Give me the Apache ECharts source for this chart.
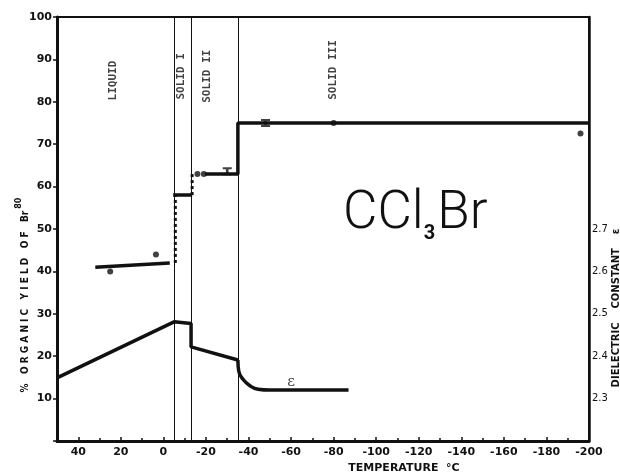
<!DOCTYPE html>
<html>
<head>
<meta charset="utf-8">
<script src="https://cdn.jsdelivr.net/npm/echarts@6/dist/echarts.min.js"></script>
<style>
  html, body { margin: 0; padding: 0; background: #fff; }
  #main { width: 620px; height: 476px; }
</style>
</head>
<body>
<div id="main"></div>
<script>
// yield of Br80 (% organic), left axis
const yieldLiquid = [[32, 41], [-3, 42]];
const yieldSolidI = [[-4.6, 58], [-13.5, 58]];
const yieldSolidII = [[-19.5, 63], [-35, 63], [-35, 75], [-200, 75]];
const yieldJumpA = [[-5.6, 42], [-5.6, 58]];
const yieldJumpB = [[-13.5, 58], [-13.5, 63]];
const yieldPoints = [[25, 40], [3.5, 44], [-16, 63], [-19, 63], [-80, 75], [-196, 72.5]];
const yieldBars = [[-30, 63.6], [-48, 75]];

// dielectric constant, right axis
const dielectric = [[50, 2.349], [-5, 2.481], [-13, 2.477], [-13, 2.422], [-35, 2.391]];
const dielectricTail = [[-35, 2.391], [-35.4, 2.365], [-37.5, 2.345], [-40.5, 2.331], [-44.5, 2.322], [-50, 2.32], [-87, 2.32]];

// phase boundaries and labels
const phaseBounds = [-5, -13, -35];
const phaseLabels = [[23.5, 85, 'LIQUID'], [-8.5, 86, 'SOLID I'], [-20.7, 86, 'SOLID II'], [-80, 87.5, 'SOLID III']];
const rightLabels = ['2.3', '2.4', '2.5', '2.6', '2.7'];

const black = '#111';
const lbl = { color: black, fontFamily: 'DejaVu Sans', fontWeight: 'bold', fontSize: 11 };

function seg(data, yIndex, type, smooth) {
    return {
        type: 'line', data: data, yAxisIndex: yIndex, symbol: 'none', smooth: smooth || false,
        lineStyle: { color: black, width: type === 'dotted' ? 3 : 3.5, type: type || 'solid' },
        silent: true, z: 3
    };
}

let myChart = echarts.init(document.getElementById('main'));

let option = {
    animation: false,
    backgroundColor: '#fff',
    grid: {
        left: 57, right: 31, top: 17, bottom: 35, containLabel: false, outerBoundsMode: 'none',
        show: true, borderColor: black, borderWidth: 2
    },
    xAxis: {
        type: 'value', inverse: true, min: -200, max: 50, interval: 20,
        name: 'TEMPERATURE  °C', nameLocation: 'middle', nameGap: 22,
        nameTextStyle: { color: black, fontFamily: 'DejaVu Sans', fontWeight: 'bold', fontSize: 11, padding: [0, 0, 0, 162] },
        axisLine: { onZero: false, lineStyle: { color: black, width: 3 } },
        axisTick: { inside: true, length: 4, lineStyle: { color: black, width: 1.5 } },
        minorTick: { show: true, splitNumber: 2, length: 3, lineStyle: { color: black, width: 1.5 } },
        axisLabel: Object.assign({ margin: 6, showMaxLabel: false }, lbl),
        splitLine: { show: false }
    },
    yAxis: [
        {
            type: 'value', min: 0, max: 100, interval: 10,
            name: '%   O R G A N I C   Y I E L D   O F   Br{sup|80}', nameLocation: 'middle', nameGap: 22, nameRotate: 90,
            nameMoveOverlap: false,
            nameTextStyle: {
                color: black, fontFamily: 'DejaVu Sans Condensed', fontWeight: 'bold', fontSize: 10, padding: [0, 132, 0, 0],
                rich: { sup: { color: black, fontFamily: 'DejaVu Sans', fontWeight: 'bold', fontSize: 8, padding: [0, 0, 12, 2] } }
            },
            axisLine: { show: true, onZero: false, lineStyle: { color: black, width: 3 } },
            axisTick: { show: true, length: 4, lineStyle: { color: black, width: 1.5 } },
            axisLabel: Object.assign({ margin: 5, formatter: v => (v === 0 ? '' : v) }, lbl),
            splitLine: { show: false }
        },
        {
            type: 'value', min: 2.2, max: 3.2, interval: 0.1, position: 'right',
            name: 'DIELECTRIC    CONSTANT    ε', nameLocation: 'middle', nameGap: 22, nameRotate: 90,
            nameMoveOverlap: false,
            nameTextStyle: { color: black, fontFamily: 'DejaVu Sans', fontWeight: 'bold', fontSize: 10, padding: [0, 158, 0, 0] },
            axisLine: { show: true, onZero: false, lineStyle: { color: black, width: 2.5 } },
            axisTick: { show: false },
            axisLabel: Object.assign({}, lbl, {
                fontSize: 10, fontWeight: 'normal', margin: 3,
                formatter: v => {
                    const s = v.toFixed(1);
                    return rightLabels.indexOf(s) >= 0 ? s : '';
                }
            }),
            splitLine: { show: false }
        }
    ],
    graphic: [
        {
            type: 'text', left: 343, top: 188,
            style: {
                text: 'CCl{s|3}Br', fill: black, font: '300 53px Roboto',
                rich: { s: { fontFamily: 'Roboto', fontSize: 20, fontWeight: 'bold', fill: black, padding: [38, 2, 0, 0] } }
            }
        }
    ],
    series: [
        Object.assign(seg(yieldLiquid, 0), {
            markLine: {
                silent: true, symbol: 'none', label: { show: false },
                lineStyle: { color: black, width: 1, type: 'solid' },
                data: phaseBounds.map(t => ({ xAxis: t }))
            }
        }),
        seg(yieldSolidI, 0),
        seg(yieldSolidII, 0),
        seg(yieldJumpA, 0, 'dotted'),
        seg(yieldJumpB, 0, 'dotted'),
        seg(dielectric, 1),
        seg(dielectricTail, 1, 'solid', 0.5),
        {
            type: 'scatter', data: yieldPoints, yAxisIndex: 0, symbol: 'circle', symbolSize: 6,
            itemStyle: { color: black }, z: 4
        },
        {
            type: 'scatter', data: yieldBars, yAxisIndex: 0,
            symbol: 'path://M0,0H10V2.5H6.5V7.5H10V10H0V7.5H3.5V2.5H0Z', symbolSize: [9, 8],
            itemStyle: { color: black }, z: 4
        },
        {
            type: 'scatter', data: phaseLabels, yAxisIndex: 0, symbolSize: 0,
            label: {
                show: true, position: 'inside', rotate: 90, formatter: p => p.data[2],
                color: black, fontFamily: 'DejaVu Sans Mono', fontWeight: 'bold', fontSize: 11
            }
        },
        {
            type: 'scatter', data: [[-60, 2.338]], yAxisIndex: 1, symbolSize: 0,
            label: { show: true, position: 'inside', formatter: 'ε', color: black, fontFamily: 'DejaVu Serif', fontSize: 15 }
        }
    ]
};

myChart.setOption(option);
</script>
</body>
</html>
